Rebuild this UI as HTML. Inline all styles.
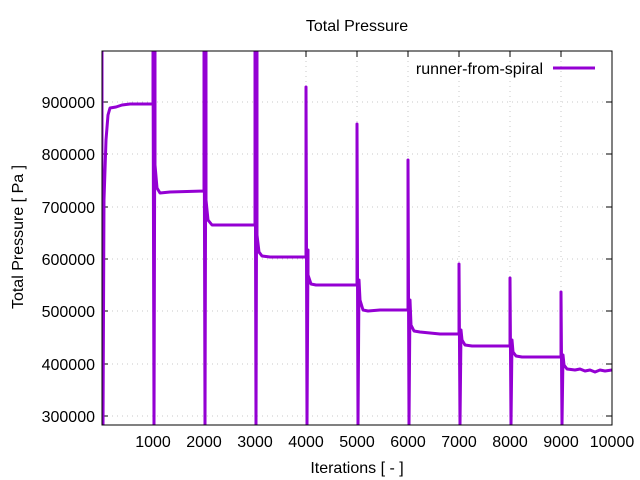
<!DOCTYPE html>
<html><head><meta charset="utf-8"><style>
html,body{margin:0;padding:0;background:#fff}
svg{display:block;font-family:"Liberation Sans",sans-serif}
</style></head><body>
<svg width="640" height="480" viewBox="0 0 640 480" xmlns="http://www.w3.org/2000/svg">
<rect width="640" height="480" fill="#fff"/>
<g stroke="#c8c8c8" stroke-width="1" stroke-dasharray="1,4">
<line x1="102" y1="416" x2="612" y2="416"/><line x1="102" y1="364" x2="612" y2="364"/>
<line x1="102" y1="311" x2="612" y2="311"/><line x1="102" y1="259" x2="612" y2="259"/>
<line x1="102" y1="207" x2="612" y2="207"/><line x1="102" y1="154" x2="612" y2="154"/>
<line x1="102" y1="102" x2="612" y2="102"/>
<line x1="153" y1="51" x2="153" y2="425"/><line x1="204" y1="51" x2="204" y2="425"/>
<line x1="255" y1="51" x2="255" y2="425"/><line x1="306" y1="51" x2="306" y2="425"/>
<line x1="357" y1="51" x2="357" y2="425"/><line x1="408" y1="51" x2="408" y2="425"/>
<line x1="459" y1="51" x2="459" y2="425"/><line x1="510" y1="51" x2="510" y2="425"/>
<line x1="561" y1="51" x2="561" y2="425"/>
</g>
<g stroke="#000" stroke-width="1">
<path d="M102,416h6M102,364h6M102,311h6M102,259h6M102,207h6M102,154h6M102,102h6"/>
<path d="M612,416h-6M612,364h-6M612,311h-6M612,259h-6M612,207h-6M612,154h-6M612,102h-6"/>
<path d="M153,425v-6M204,425v-6M255,425v-6M306,425v-6M357,425v-6M408,425v-6M459,425v-6M510,425v-6M561,425v-6"/>
<path d="M153,51v6M204,51v6M255,51v6M306,51v6M357,51v6M408,51v6M459,51v6M510,51v6M561,51v6"/>
</g>
<g font-size="16" fill="#000" text-anchor="end">
<text x="95" y="422">300000</text><text x="95" y="370">400000</text><text x="95" y="317">500000</text>
<text x="95" y="265">600000</text><text x="95" y="213">700000</text><text x="95" y="160">800000</text>
<text x="95" y="108">900000</text>
</g>
<g font-size="16" fill="#000" text-anchor="middle">
<text x="153" y="447">1000</text><text x="204" y="447">2000</text><text x="255" y="447">3000</text>
<text x="306" y="447">4000</text><text x="357" y="447">5000</text><text x="408" y="447">6000</text>
<text x="459" y="447">7000</text><text x="510" y="447">8000</text><text x="561" y="447">9000</text>
<text x="612" y="447">10000</text>
<text x="357" y="473">Iterations [ - ]</text>
<text x="357" y="31">Total Pressure</text>
<text x="23" y="237" transform="rotate(-90 23 237)">Total Pressure [ Pa ]</text>
</g>
<clipPath id="c"><rect x="102" y="51" width="510" height="374"/></clipPath>
<g clip-path="url(#c)" fill="none" stroke="#9400d3" stroke-width="3" stroke-linejoin="round">
<path d="M102,40 L102,425 L103,425 L104,200 L106,140 L108,115 L110,108 L116,107 L122,105 L130,104 L153,104
L153,40 L154,425 L155,40 L155,165 L157,188 L160,193 L170,192 L204,191
L204,40 L205,425 L206,40 L206,200 L208,220 L212,225 L220,225 L255,225
L255,40 L256,425 L257,40 L257,235 L259,252 L262,256 L270,257 L306,257
L306,87 L307,425 L308,250 L308,275 L311,284 L316,285 L357,285
L357,124 L358,425 L359,280 L360,300 L363,310 L368,311 L380,310 L408,310
L408,160 L409,425 L410,300 L411,325 L414,331 L420,332 L430,333 L440,334 L459,334
L459,264 L460,425 L461,330 L462,340 L465,345 L472,346 L480,346 L510,346
L510,278 L511,425 L512,340 L513,352 L516,356 L522,357 L530,357 L561,357
L561,292 L562,425 L563,355 L564,365 L567,369 L575,370 L580,369 L585,371 L590,370 L595,372 L600,370 L605,371 L612,370"/>
</g>
<rect x="102" y="51" width="510" height="374" fill="none" stroke="#000" stroke-width="1"/>
<text x="543" y="74" font-size="16" text-anchor="end" fill="#000">runner-from-spiral</text>
<line x1="553" y1="68" x2="595" y2="68" stroke="#9400d3" stroke-width="3"/>
</svg>
</body></html>
